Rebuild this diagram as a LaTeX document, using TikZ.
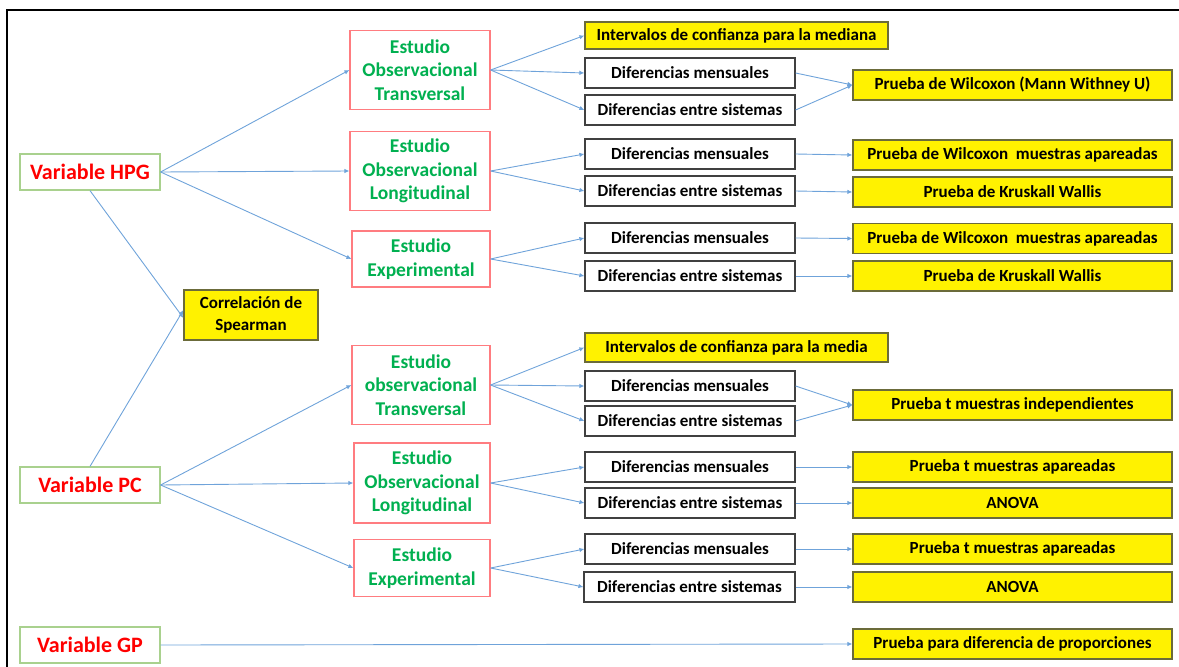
\documentclass[tikz,border=0pt]{standalone}
\usepackage{fontspec}
\setmainfont{Carlito}
\usetikzlibrary{arrows.meta}
\definecolor{arrowblue}{HTML}{6FA3DA}
\definecolor{vgreen}{HTML}{A9D18E}
\definecolor{ered}{HTML}{FF7C80}
\definecolor{tgreen}{HTML}{00B050}
\definecolor{ybord}{HTML}{6B6B3A}
\tikzset{
  varbox/.style={draw=vgreen, line width=1.2pt, fill=white, minimum width=140pt, minimum height=36pt, inner sep=0pt, text=red, font=\bfseries\fontsize{22}{24}\selectfont},
  estbox/.style={draw=ered, line width=1.2pt, fill=white, minimum width=140pt, inner sep=0pt, text=tgreen, align=center, font=\bfseries\fontsize{19.5}{23.5}\selectfont},
  difbox/.style={draw=black!75, line width=1.2pt, fill=white, minimum width=210pt, minimum height=30pt, inner sep=0pt, font=\bfseries\fontsize{17}{19}\selectfont},
  ybox/.style={draw=ybord, line width=1.2pt, fill=yellow, minimum height=30pt, inner sep=0pt, align=center, font=\bfseries\fontsize{17}{19}\selectfont},
  rbox/.style={ybox, minimum width=319pt},
  arr/.style={draw=arrowblue, line width=0.9pt, -{Latex[length=5pt,width=4.5pt]}},
}
\begin{document}
\begin{tikzpicture}[x=1pt,y=-1pt]
\useasboundingbox (0,0) rectangle (1179,667);
% frame
\draw[line width=2.5pt] (7,667) -- (7,10) -- (1179,10);

% variables
\node[varbox] (hpg) at (90,172) {Variable HPG};
\node[varbox] (pc) at (90,485) {Variable PC};
\node[varbox] (gp) at (90,645) {Variable GP};
\node[ybox, minimum width=134pt, minimum height=50pt, font=\bfseries\fontsize{17}{22}\selectfont] (sp) at (251,315) {Correlación de\\Spearman};

% estudios
\node[estbox, minimum height=79pt] (e1) at (420,70) {Estudio\\Observacional\\Transversal};
\node[estbox, minimum height=79pt] (e2) at (420,171) {Estudio\\Observacional\\Longitudinal};
\node[estbox, minimum width=138pt, minimum height=56pt] (e3) at (421,259) {Estudio\\Experimental};
\node[estbox, minimum width=138pt, minimum height=79pt] (e4) at (421,385) {Estudio\\observacional\\Transversal};
\node[estbox, minimum width=136pt, minimum height=80pt] (e5) at (422,483) {Estudio\\Observacional\\Longitudinal};
\node[estbox, minimum width=136pt, minimum height=57pt] (e6) at (422,568) {Estudio\\Experimental};

% middle column
\node[ybox, minimum width=303pt, minimum height=27pt] (ic1) at (736.5,35.5) {Intervalos de confianza para la mediana};
\node[difbox] (d1) at (690,73) {Diferencias mensuales};
\node[difbox] (s1) at (690,110) {Diferencias entre sistemas};
\node[difbox] (d2) at (690,154) {Diferencias mensuales};
\node[difbox] (s2) at (690,191) {Diferencias entre sistemas};
\node[difbox] (d3) at (690,238) {Diferencias mensuales};
\node[difbox] (s3) at (690,276) {Diferencias entre sistemas};
\node[ybox, minimum width=303pt, minimum height=29pt] (ic2) at (736.5,347.5) {Intervalos de confianza para la media};
\node[difbox] (d4) at (690,386) {Diferencias mensuales};
\node[difbox] (s4) at (690,421) {Diferencias entre sistemas};
\node[difbox] (d5) at (690,467) {Diferencias mensuales};
\node[difbox] (s5) at (690,503) {Diferencias entre sistemas};
\node[difbox] (d6) at (690,549) {Diferencias mensuales};
\node[difbox, minimum width=211pt] (s6) at (689.5,587) {Diferencias entre sistemas};

% right column
\node[rbox] (r1) at (1012.5,85) {Prueba de Wilcoxon (Mann Withney U)};
\node[rbox] (r2) at (1012.5,155) {Prueba de Wilcoxon\ \ muestras apareadas};
\node[rbox] (r3) at (1012.5,192) {Prueba de Kruskall Wallis};
\node[rbox] (r4) at (1012.5,238.5) {Prueba de Wilcoxon\ \ muestras apareadas};
\node[rbox] (r5) at (1012.5,276) {Prueba de Kruskall Wallis};
\node[rbox] (r6) at (1012.5,405) {Prueba t muestras independientes};
\node[rbox] (r7) at (1012.5,467) {Prueba t muestras apareadas};
\node[rbox] (r8) at (1012.5,503) {ANOVA};
\node[rbox] (r9) at (1012.5,549) {Prueba t muestras apareadas};
\node[rbox] (r10) at (1012.5,587) {ANOVA};
\node[rbox] (r11) at (1012.5,644) {Prueba para diferencia de proporciones};

% arrows from variables
\draw[arr] (hpg.east) -- (e1.west);
\draw[arr] (hpg.east) -- (e2.west);
\draw[arr] (hpg.east) -- (e3.west);
\draw[arr] (hpg.south) -- ([yshift=-3pt]sp.west);
\draw[arr] (pc.north) -- ([yshift=5pt]sp.west);
\draw[arr] (pc.east) -- (e4.west);
\draw[arr] (pc.east) -- (e5.west);
\draw[arr] (pc.east) -- (e6.west);
\draw[arr] (gp.east) -- (r11.west);

% estudio -> diff
\draw[arr] (e1.east) -- (ic1.west);
\draw[arr] (e1.east) -- (d1.west);
\draw[arr] (e1.east) -- (s1.west);
\draw[arr] (e2.east) -- (d2.west);
\draw[arr] (e2.east) -- (s2.west);
\draw[arr] (e3.east) -- (d3.west);
\draw[arr] (e3.east) -- (s3.west);
\draw[arr] (e4.east) -- (ic2.west);
\draw[arr] (e4.east) -- (d4.west);
\draw[arr] (e4.east) -- (s4.west);
\draw[arr] (e5.east) -- (d5.west);
\draw[arr] (e5.east) -- (s5.west);
\draw[arr] (e6.east) -- (d6.west);
\draw[arr] (e6.east) -- (s6.west);

% diff -> tests
\draw[arr] (d1.east) -- (r1.west);
\draw[arr] (s1.east) -- (r1.west);
\draw[arr] (d2.east) -- (r2.west);
\draw[arr] (s2.east) -- (r3.west);
\draw[arr] (d3.east) -- (r4.west);
\draw[arr] (s3.east) -- (r5.west);
\draw[arr] (d4.east) -- (r6.west);
\draw[arr] (s4.east) -- (r6.west);
\draw[arr] (d5.east) -- (r7.west);
\draw[arr] (s5.east) -- (r8.west);
\draw[arr] (d6.east) -- (r9.west);
\draw[arr] (s6.east) -- (r10.west);
\end{tikzpicture}
\end{document}
